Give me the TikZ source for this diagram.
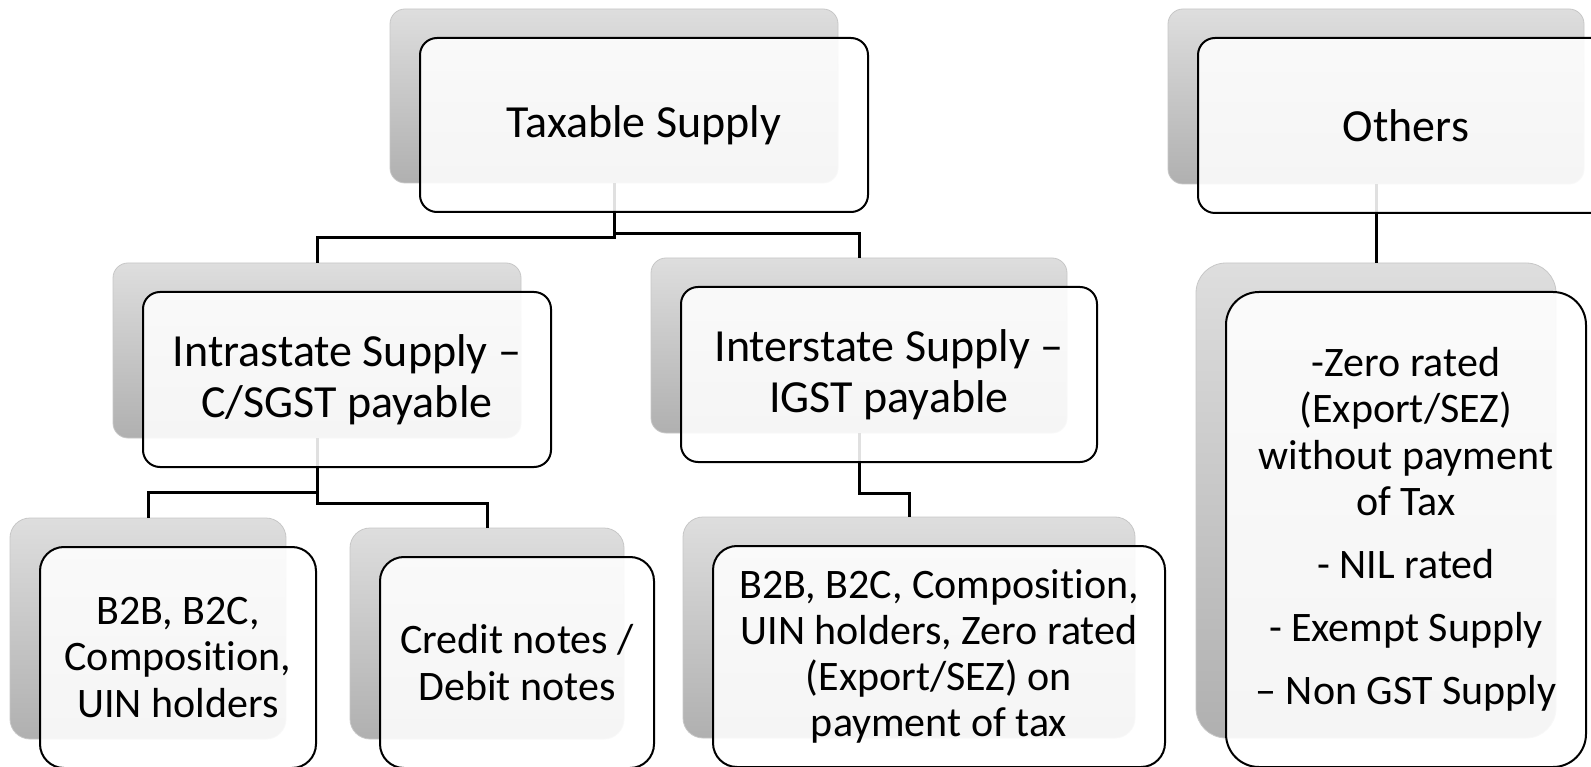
\documentclass[tikz,border=0pt]{standalone}
\usepackage{fontspec}
\setmainfont{Carlito}[Ligatures=NoCommon]
\begin{document}
\begin{tikzpicture}[x=1pt,y=-1pt,
  back/.style={rectangle, draw=black!22, line width=0.8pt,
    top color=black!13, bottom color=black!31, inner sep=0pt},
  front/.style={rectangle, draw=black, line width=2pt,
    fill=white, fill opacity=0.88, inner sep=0pt},
  conn/.style={draw=black, line width=3pt},
  big/.style={align=center, inner sep=0pt, font=\fontsize{46}{50.5}\selectfont},
  small/.style={align=center, inner sep=0pt, font=\fontsize{42}{46.2}\selectfont}]
\useasboundingbox (0,0) rectangle (1591,767);
\clip (0,0) rectangle (1591,767);
\fill[white] (0,0) rectangle (1591,767);

% shaded back plates
\node[back, rounded corners=15pt, minimum width=448pt, minimum height=174pt] (bTax)  at (614,96) {};
\node[back, rounded corners=15pt, minimum width=416pt, minimum height=175pt] (bOth)  at (1376,96.5) {};
\node[back, rounded corners=15pt, minimum width=408pt, minimum height=175pt] (bIntra) at (317,350.5) {};
\node[back, rounded corners=15pt, minimum width=416pt, minimum height=175pt] (bInter) at (859,345.5) {};
\node[back, rounded corners=20pt, minimum width=276pt, minimum height=221pt] (bB2B)  at (148,628.5) {};
\node[back, rounded corners=20pt, minimum width=274pt, minimum height=211pt] (bCred) at (487,633.5) {};
\node[back, rounded corners=20pt, minimum width=452pt, minimum height=221pt] (bBot)  at (909,627.5) {};
\node[back, rounded corners=30pt, minimum width=360pt, minimum height=475pt] (bOthC) at (1376,500.5) {};

% hierarchy connectors
\draw[conn] (bTax.south) -- ++(0,54) -| (bIntra.north);
\draw[conn] (bTax.south) -- ++(0,50) -| (bInter.north);
\draw[conn] (bIntra.south) -- ++(0,54) -| (bB2B.north);
\draw[conn] (bIntra.south) -- ++(0,65) -| (bCred.north);
\draw[conn] (bInter.south) -- ++(0,60) -| (bBot.north);
\draw[conn] (bOth.south) -- (bOthC.north);

% white front cards
\node[front, rounded corners=17pt, minimum width=448pt, minimum height=174pt] (fTax)  at (644,125) {};
\node[front, rounded corners=17pt, minimum width=416pt, minimum height=175pt] (fOth)  at (1406,125.5) {};
\node[front, rounded corners=17pt, minimum width=408pt, minimum height=175pt] (fIntra) at (347,379.5) {};
\node[front, rounded corners=17pt, minimum width=416pt, minimum height=175pt] (fInter) at (889,374.5) {};
\node[front, rounded corners=24pt, minimum width=276pt, minimum height=221pt] (fB2B)  at (178,657.5) {};
\node[front, rounded corners=24pt, minimum width=274pt, minimum height=211pt] (fCred) at (517,662.5) {};
\node[front, rounded corners=24pt, minimum width=452pt, minimum height=221pt] (fBot)  at (939,656.5) {};
\node[front, rounded corners=33pt, minimum width=360pt, minimum height=475pt] (fOthC) at (1406,529.5) {};

% labels
\node[big] (tTax) at (fTax.center) {Taxable Supply};
\node[big] (tOth) at (fOth.center) {Others};
\node[big] (tIntra) at (fIntra.center) {Intrastate Supply –\\C/SGST payable};
\node[big] (tInter) at (fInter.center) {Interstate Supply –\\IGST payable};
\node[small] (tB2B) at (fB2B.center) {B2B, B2C,\\Composition,\\UIN holders};
\node[small] (tCred) at (fCred.center) {Credit notes /\\Debit notes};
\node[small] (tBot) at (fBot.center) {B2B, B2C, Composition,\\UIN holders, Zero rated\\(Export/SEZ) on\\payment of tax};
\node[small] (tOthC) at (fOthC.center) {-Zero rated\\(Export/SEZ)\\without payment\\of Tax\\[17pt]- NIL rated\\[17pt]- Exempt Supply\\[17pt]– Non GST Supply};
\end{tikzpicture}
\end{document}
